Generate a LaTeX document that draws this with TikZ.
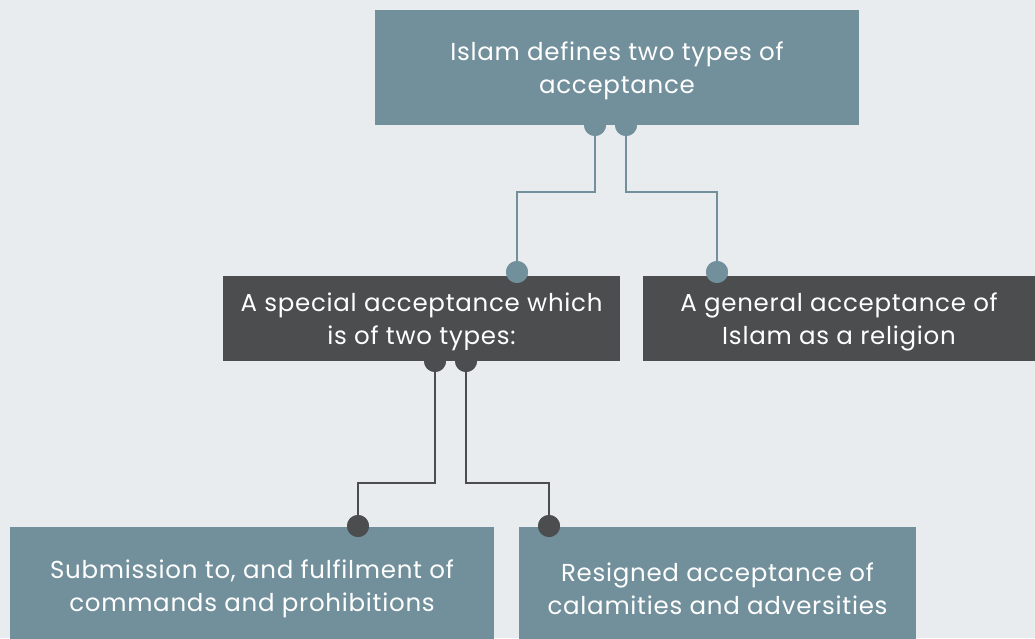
\documentclass[tikz,border=0pt]{standalone}
\usepackage{fontspec}
\setmainfont{Poppins}[LetterSpace=3]
\definecolor{bg}{RGB}{233,236,239}
\definecolor{steel}{RGB}{114,144,155}
\definecolor{dark}{RGB}{75,77,79}
\begin{document}
\begin{tikzpicture}[x=1pt,y=1pt,
  box/.style={rectangle,inner sep=0pt},
  txt/.style={inner sep=0pt,text=white,align=center,font=\fontsize{24.5}{33}\selectfont},
  conn/.style={line width=2pt},
  dot/.style={circle,inner sep=0pt,minimum size=22pt}]
\fill[bg] (0,0) rectangle (1035,638);
\useasboundingbox (0,0) rectangle (1035,638);
% boxes
\node[box,fill=steel,minimum width=484pt,minimum height=115pt] (top) at (617,570.5) {};
\node[box,fill=dark,minimum width=397pt,minimum height=85pt] (ml) at (421.5,319.5) {};
\node[box,fill=dark,minimum width=392pt,minimum height=85pt] (mr) at (839,319.5) {};
\node[box,fill=steel,minimum width=484pt,minimum height=118pt] (bl) at (252,52) {};
\node[box,fill=steel,minimum width=397pt,minimum height=118pt] (br) at (717.5,52) {};
% texts
\node[txt] (topt) at ([yshift=-3pt]top.center) {Islam defines two types of\\acceptance};
\node[txt] (mlt) at ([yshift=-3pt]ml.center) {A special acceptance which\\is of two types:};
\node[txt] (mrt) at ([yshift=-3pt]mr.center) {A general acceptance of\\Islam as a religion};
\node[txt] (blt) at ([yshift=-3pt]bl.center) {Submission to, and fulfilment of\\commands and prohibitions};
\node[txt] (brt) at ([yshift=-3pt]br.center) {Resigned acceptance of\\calamities and adversities};
% dots top
\node[dot,fill=steel] (t1) at (595,513) {};
\node[dot,fill=steel] (t2) at (626,513) {};
\node[dot,fill=steel] (m1) at (517,366) {};
\node[dot,fill=steel] (m2) at (717,366) {};
\draw[conn,steel] (t1.center) |- (517,446) -- (m1.center);
\draw[conn,steel] (t2.center) |- (717,446) -- (m2.center);
% dots middle
\node[dot,fill=dark] (d1) at (435,277) {};
\node[dot,fill=dark] (d2) at (466,277) {};
\node[dot,fill=dark] (b1) at (358,112) {};
\node[dot,fill=dark] (b2) at (549,112) {};
\draw[conn,dark] (d1.center) |- (358,155) -- (b1.center);
\draw[conn,dark] (d2.center) |- (549,155) -- (b2.center);
% redraw dots on top of lines
\fill[steel] (t1) circle (11pt) (t2) circle (11pt) (m1) circle (11pt) (m2) circle (11pt);
\fill[dark] (d1) circle (11pt) (d2) circle (11pt) (b1) circle (11pt) (b2) circle (11pt);
\end{tikzpicture}
\end{document}
